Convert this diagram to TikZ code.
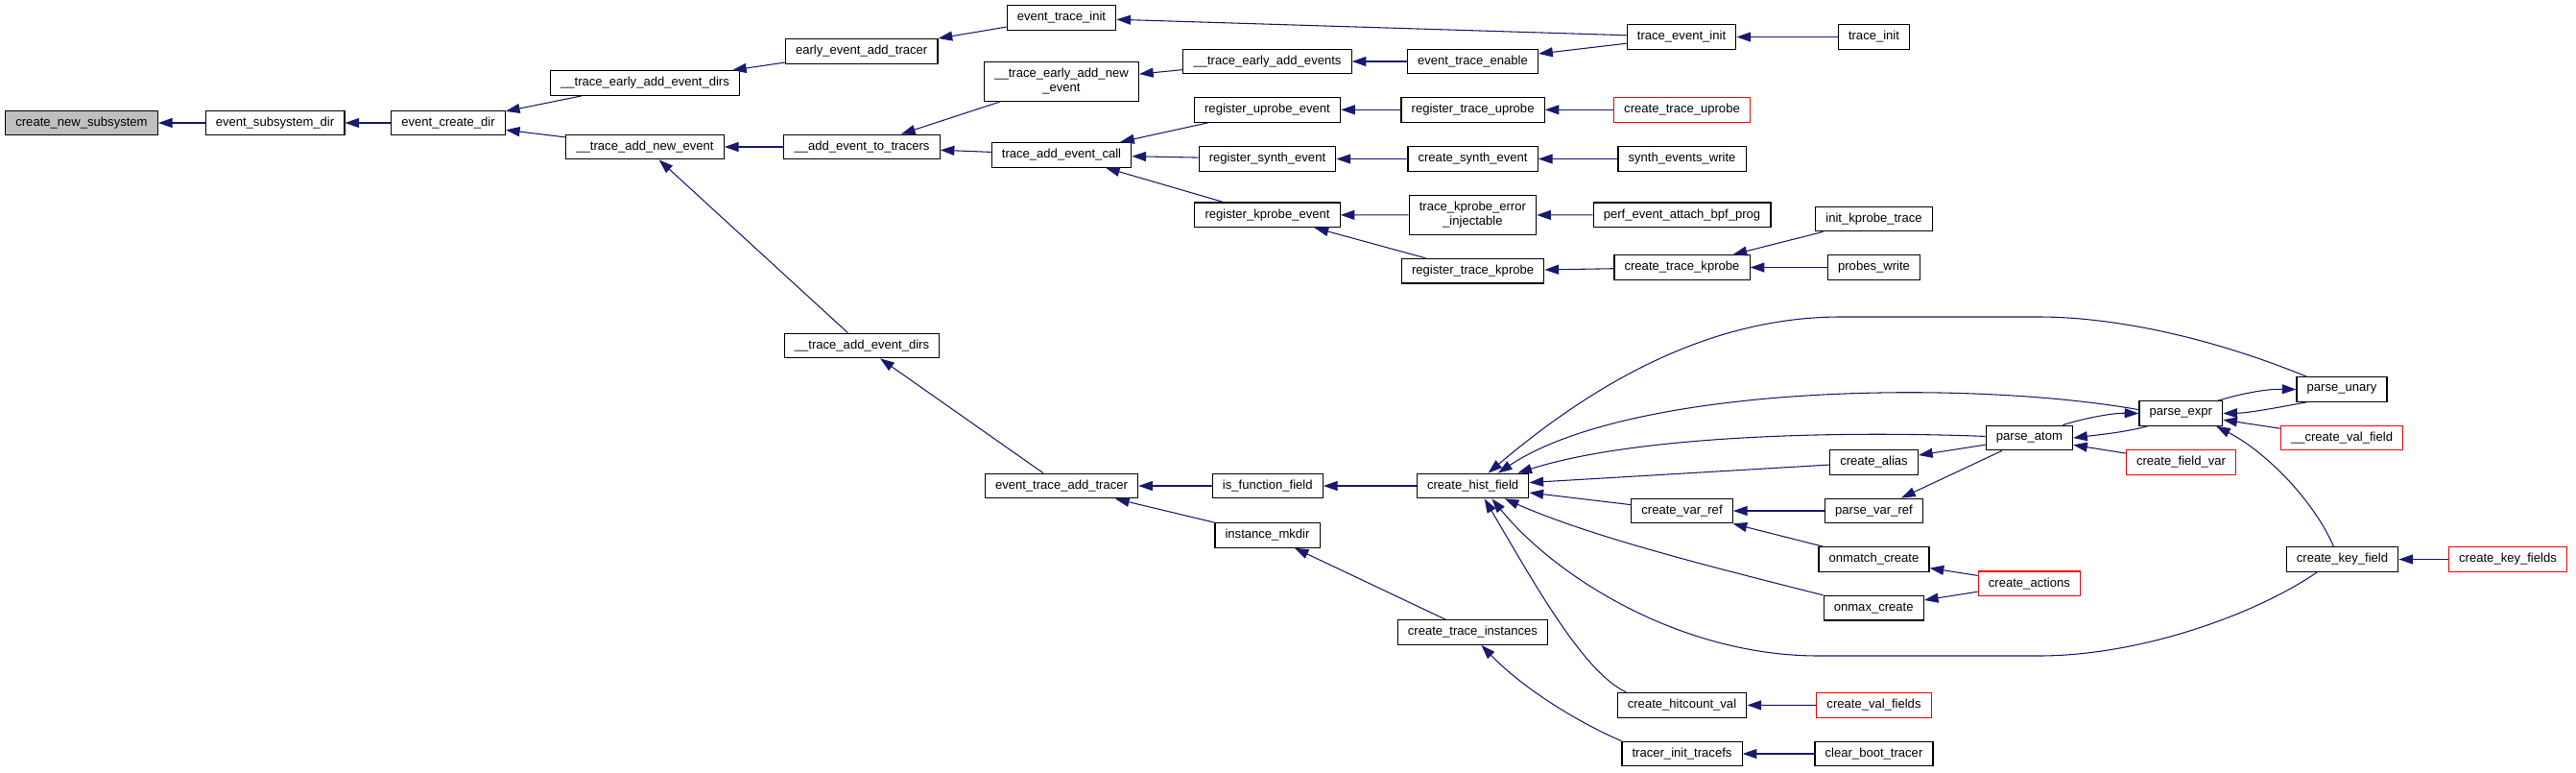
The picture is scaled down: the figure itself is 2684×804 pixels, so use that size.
\documentclass[tikz,border=0pt]{standalone}
\usepackage{fontspec}
\setmainfont{Liberation Sans}
\usetikzlibrary{arrows.meta}

\definecolor{edgeblue}{RGB}{25,25,112}
\definecolor{rootgray}{RGB}{191,191,191}

\begin{document}
\begin{tikzpicture}[
		x=0.75pt, y=-0.75pt,
		fn/.style = {draw=black, line width=0.9pt, inner xsep=8pt, inner ysep=1pt, minimum height=19.2pt, align=center, font=\fontsize{9.8}{11.3}\selectfont},
		fnred/.style = {fn, draw=red},
		fnroot/.style = {fn, fill=rootgray},
		fntwo/.style = {fn, minimum height=30.5pt},
		calls/.style = {->, draw=edgeblue, line width=0.8pt},
		>={Triangle[length=11pt,width=7.5pt]}
	]
	\useasboundingbox (0,0) rectangle (2684,804);

	\node[fnroot] (newsub)    at (85,128)     {create\_new\_subsystem};
	\node[fn] (subdir)        at (286.5,128)  {event\_subsystem\_dir};
	\node[fn] (createdir)     at (467,128)    {event\_create\_dir};
	\node[fn] (earlydirs)     at (672,86.5)   {\_\_trace\_early\_add\_event\_dirs};
	\node[fn] (addnew)        at (672,153)    {\_\_trace\_add\_new\_event};
	\node[fn] (earlytracer)   at (897.7,53.3) {early\_event\_add\_tracer};
	\node[fn] (totracers)     at (898,153)    {\_\_add\_event\_to\_tracers};
	\node[fn] (adddirs)       at (898,360)    {\_\_trace\_add\_event\_dirs};
	\node[fn] (evtinit)       at (1106,18.5)  {event\_trace\_init};
	\node[fntwo] (earlynew)   at (1106,85)    {\_\_trace\_early\_add\_new\\\_event};
	\node[fn] (addcall)       at (1106,161.3) {trace\_add\_event\_call};
	\node[fn] (addtracer)     at (1106,506)   {event\_trace\_add\_tracer};
	\node[fn] (earlyevents)   at (1320.5,64)  {\_\_trace\_early\_add\_events};
	\node[fn] (uprobeevt)     at (1320.5,114.3) {register\_uprobe\_event};
	\node[fn] (synthevt)      at (1320.5,165.5) {register\_synth\_event};
	\node[fn] (kprobeevt)     at (1320.5,223.8) {register\_kprobe\_event};
	\node[fn] (isfunc)        at (1320.8,506) {is\_function\_field};
	\node[fn] (mkdir)         at (1320.5,557.3) {instance\_mkdir};
	\node[fn] (enable)        at (1534.5,64)  {event\_trace\_enable};
	\node[fn] (reguprobe)     at (1534.6,114.3) {register\_trace\_uprobe};
	\node[fn] (createsynth)   at (1534.6,165.5) {create\_synth\_event};
	\node[fntwo] (injectable) at (1534.4,224) {trace\_kprobe\_error\\\_injectable};
	\node[fn] (regkprobe)     at (1534.6,282.2) {register\_trace\_kprobe};
	\node[fn] (histfield)     at (1534.6,506) {create\_hist\_field};
	\node[fn] (instances)     at (1534.4,658.5) {create\_trace\_instances};
	\node[fn] (tevinit)       at (1752,38.5)  {trace\_event\_init};
	\node[fnred] (cuprobe)    at (1752.5,114.3) {create\_trace\_uprobe};
	\node[fn] (synthwrite)    at (1752.5,165.5) {synth\_events\_write};
	\node[fn] (bpfprog)       at (1752.5,223.8) {perf\_event\_attach\_bpf\_prog};
	\node[fn] (ckprobe)       at (1752.5,278.5) {create\_trace\_kprobe};
	\node[fn] (varref)        at (1752.5,532) {create\_var\_ref};
	\node[fn] (hitcount)      at (1752.5,734.3) {create\_hitcount\_val};
	\node[fn] (tracefs)       at (1752.5,785) {tracer\_init\_tracefs};
	\node[fn] (tinit)         at (1952.5,38.5) {trace\_init};
	\node[fn] (kprobeinit)    at (1952.5,228) {init\_kprobe\_trace};
	\node[fn] (probeswrite)   at (1952.5,278.5) {probes\_write};
	\node[fn] (alias)         at (1952.5,481.3) {create\_alias};
	\node[fn] (parsevar)      at (1952.5,532) {parse\_var\_ref};
	\node[fn] (onmatch)       at (1952.5,582.5) {onmatch\_create};
	\node[fn] (onmax)         at (1952.2,633.2) {onmax\_create};
	\node[fnred] (valfields)  at (1952.5,734.5) {create\_val\_fields};
	\node[fn] (clearboot)     at (1952.5,785) {clear\_boot\_tracer};
	\node[fn] (atom)          at (2114.4,456) {parse\_atom};
	\node[fnred] (actions)    at (2114.4,607.8) {create\_actions};
	\node[fn] (expr)          at (2272.3,430.5) {parse\_expr};
	\node[fnred] (fieldvar)   at (2272.5,481.3) {create\_field\_var};
	\node[fn] (unary)         at (2440,405.5) {parse\_unary};
	\node[fnred] (valfield)   at (2440,456)   {\_\_create\_val\_field};
	\node[fn] (keyfield)      at (2440.5,582.5) {create\_key\_field};
	\node[fnred] (keyfields)  at (2613,582.5) {create\_key\_fields};

	% callers point at the function they call
	\draw[calls] (subdir) -- (newsub);
	\draw[calls] (createdir) -- (subdir);
	\draw[calls] (earlydirs) -- (createdir);
	\draw[calls] (addnew) -- (createdir);
	\draw[calls] (earlytracer) -- (earlydirs);
	\draw[calls] (evtinit) -- (earlytracer);
	\draw[calls] (tevinit) -- (evtinit);
	\draw[calls] (tinit) -- (tevinit);
	\draw[calls] (totracers) -- (addnew);
	\draw[calls] (adddirs) -- (addnew);
	\draw[calls] (earlynew) -- (totracers);
	\draw[calls] (addcall) -- (totracers);
	\draw[calls] (earlyevents) -- (earlynew);
	\draw[calls] (enable) -- (earlyevents);
	\draw[calls] (tevinit) -- (enable);
	\draw[calls] (uprobeevt) -- (addcall);
	\draw[calls] (synthevt) -- (addcall);
	\draw[calls] (kprobeevt) -- (addcall);
	\draw[calls] (reguprobe) -- (uprobeevt);
	\draw[calls] (cuprobe) -- (reguprobe);
	\draw[calls] (createsynth) -- (synthevt);
	\draw[calls] (synthwrite) -- (createsynth);
	\draw[calls] (injectable) -- (kprobeevt);
	\draw[calls] (regkprobe) -- (kprobeevt);
	\draw[calls] (bpfprog) -- (injectable);
	\draw[calls] (ckprobe) -- (regkprobe);
	\draw[calls] (kprobeinit) -- (ckprobe);
	\draw[calls] (probeswrite) -- (ckprobe);
	\draw[calls] (addtracer) -- (adddirs);
	\draw[calls] (isfunc) -- (addtracer);
	\draw[calls] (mkdir) -- (addtracer);
	\draw[calls] (histfield) -- (isfunc);
	\draw[calls] (instances) -- (mkdir);
	\draw[calls] (clearboot) -- (tracefs);
	\draw[calls] (valfields) -- (hitcount);
	\draw[calls] (alias) -- (histfield);
	\draw[calls] (varref) -- (histfield);
	\draw[calls] (parsevar) -- (varref);
	\draw[calls] (onmatch) -- (varref);
	\draw[calls] (atom) -- (parsevar);
	\draw[calls] (atom) -- (alias);
	\draw[calls] (actions) -- (onmatch);
	\draw[calls] (actions) -- (onmax);
	\draw[calls] (fieldvar) -- (atom);
	\draw[calls] (valfield) -- (expr);
	\draw[calls] (keyfields) -- (keyfield);

	% curved ones
	\draw[calls] (tracefs.168) .. controls (1650,755) and (1590,720) .. (instances.-56);
	\draw[calls] (hitcount.167) .. controls (1650,700) and (1600,610) .. (histfield.-48);
	\draw[calls] (unary.160) .. controls (2300,350) and (2200,330) .. (2124,330) -- (1918,330)
		.. controls (1780,330) and (1660,400) .. (histfield.40);
	\draw[calls] (expr.175) .. controls (2050,395) and (1700,400) .. (histfield.27);
	\draw[calls] (atom.178) .. controls (1900,448) and (1700,455) .. (histfield.16);
	\draw[calls] (onmax.north west) .. controls (1790,592) and (1660,560) .. (histfield.-22);
	\draw[calls] (keyfield.-153) .. controls (2350,640) and (2230,683) .. (2124,683) -- (1895,683)
		.. controls (1750,683) and (1620,600) .. (histfield.-34);
	\draw[calls] (keyfield.124) .. controls (2410,520) and (2360,470) .. (expr.-20);
	\draw[calls] (atom.21) .. controls (2170,436) and (2200,430) .. (expr.180);
	\draw[calls] (expr.201) .. controls (2215,450) and (2185,453) .. (atom.east);
	\draw[calls] (expr.19) .. controls (2335,410) and (2360,405) .. (unary.west);
	\draw[calls] (unary.200) .. controls (2380,423) and (2345,430) .. (expr.east);
\end{tikzpicture}
\end{document}
